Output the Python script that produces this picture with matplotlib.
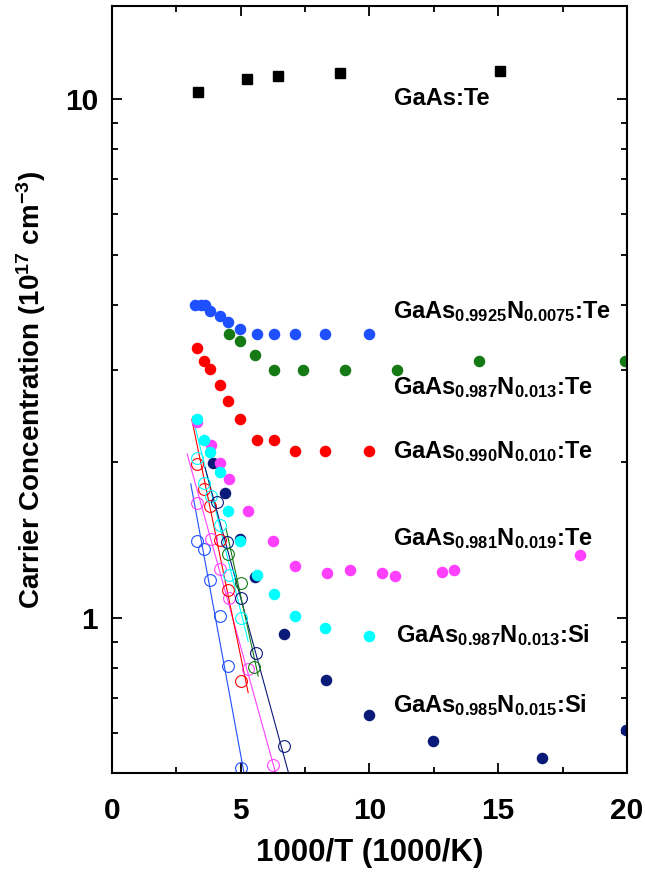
"""
Carrier concentration vs 1000/T for GaAs:Te and GaAsN samples.
"""
import matplotlib
matplotlib.use('Agg')
import matplotlib.pyplot as plt
from matplotlib.ticker import FixedLocator, NullFormatter

# --- filled symbols: Hall data ---
gaas_te_x = [3.34, 5.24, 6.45, 8.85, 15.07]
gaas_te_y = [10.3, 10.9, 11.05, 11.2, 11.3]

n0075_te_x = [3.22, 3.44, 3.61, 3.81, 4.19, 4.51, 4.97, 5.62, 6.30, 7.11, 8.27, 9.98]
n0075_te_y = [4.01, 4.01, 4.01, 3.91, 3.82, 3.72, 3.61, 3.52, 3.52, 3.52, 3.52, 3.52]

n013_te_x = [4.54, 4.98, 5.57, 6.30, 7.43, 9.05, 11.08, 14.26, 19.92]
n013_te_y = [3.52, 3.42, 3.21, 3.01, 3.01, 3.01, 3.01, 3.12, 3.12]

n010_te_x = [3.29, 3.57, 3.81, 4.19, 4.52, 4.97, 5.62, 6.30, 7.11, 8.27, 9.98]
n010_te_y = [3.31, 3.12, 3.02, 2.81, 2.62, 2.42, 2.20, 2.20, 2.10, 2.10, 2.10]

n019_te_x = [3.31, 3.83, 4.19, 4.54, 5.27, 6.24, 7.12, 8.34, 9.24, 10.50, 10.99, 12.80, 13.28, 18.17]
n019_te_y = [2.39, 2.15, 1.99, 1.85, 1.61, 1.41, 1.26, 1.22, 1.24, 1.22, 1.205, 1.225, 1.24, 1.32]

n013_si_x = [3.29, 3.57, 3.81, 4.19, 4.52, 4.98, 5.62, 6.30, 7.11, 8.27, 9.98]
n013_si_y = [2.42, 2.20, 2.09, 1.91, 1.61, 1.41, 1.21, 1.11, 1.01, 0.957, 0.925]

n015_si_x = [3.94, 4.40, 4.97, 5.55, 6.68, 8.31, 9.98, 12.48, 16.69, 19.95]
n015_si_y = [1.99, 1.74, 1.42, 1.20, 0.933, 0.76, 0.65, 0.58, 0.537, 0.608]

# --- open symbols ---
open_blue_x = [3.30, 3.57, 3.81, 4.19, 4.51, 5.00]
open_blue_y = [1.406, 1.358, 1.184, 1.008, 0.808, 0.514]
open_magenta_x = [3.31, 3.83, 4.19, 4.54, 5.27, 6.24]
open_magenta_y = [1.668, 1.419, 1.241, 1.092, 0.796, 0.52]
open_red_x = [3.29, 3.57, 3.81, 4.19, 4.52, 5.00]
open_red_y = [1.98, 1.77, 1.64, 1.413, 1.133, 0.758]
open_cyan_x = [3.29, 3.57, 3.83, 4.19, 4.54, 5.00]
open_cyan_y = [2.03, 1.82, 1.716, 1.514, 1.21, 1.0]
open_navy_x = [4.07, 4.48, 5.00, 5.59, 6.68]
open_navy_y = [1.67, 1.403, 1.092, 0.857, 0.568]
open_green_x = [4.52, 5.00, 5.53]
open_green_y = [1.33, 1.17, 0.806]

# --- fit lines (start / end) ---
fit_blue_x, fit_blue_y = [3.06, 5.17], [1.814, 0.49]
fit_magenta_x, fit_magenta_y = [2.92, 6.42], [2.07, 0.49]
fit_red_x, fit_red_y = [3.10, 5.29], [2.416, 0.718]
fit_cyan_x, fit_cyan_y = [3.13, 5.29], [2.445, 0.902]
fit_navy_x, fit_navy_y = [3.61, 6.92], [1.952, 0.49]
fit_green_x, fit_green_y = [4.43, 5.68], [1.487, 0.773]

labels = [
    r'GaAs:Te',
    r'GaAs$_{0.9925}$N$_{0.0075}$:Te',
    r'GaAs$_{0.987}$N$_{0.013}$:Te',
    r'GaAs$_{0.990}$N$_{0.010}$:Te',
    r'GaAs$_{0.981}$N$_{0.019}$:Te',
    r'GaAs$_{0.987}$N$_{0.013}$:Si',
    r'GaAs$_{0.985}$N$_{0.015}$:Si',
]

BLUE = '#1e50ff'
GREEN = '#157a15'
RED = '#ff0000'
MAGENTA = '#ff40ff'
CYAN = '#00ffff'
NAVY = '#0a1a78'

plt.rcParams['font.family'] = ['Liberation Sans', 'DejaVu Sans']
plt.rcParams['font.weight'] = 'bold'
plt.rcParams['mathtext.fontset'] = 'custom'
plt.rcParams['mathtext.rm'] = 'Liberation Sans:bold'
plt.rcParams['mathtext.it'] = 'Liberation Sans:bold'
plt.rcParams['mathtext.bf'] = 'Liberation Sans:bold'
plt.rcParams['mathtext.default'] = 'rm'

fig = plt.figure(figsize=(6.45, 8.74), dpi=100)
ax = fig.add_axes([0.1736, 0.1156, 0.7984, 0.8776])

# линии аппроксимации
for fx, fy, c in [(fit_blue_x, fit_blue_y, BLUE), (fit_magenta_x, fit_magenta_y, MAGENTA),
                  (fit_red_x, fit_red_y, RED), (fit_cyan_x, fit_cyan_y, CYAN),
                  (fit_navy_x, fit_navy_y, NAVY), (fit_green_x, fit_green_y, GREEN)]:
    ax.plot(fx, fy, color=c, lw=0.8)

# открытые символы
for ox, oy, c in [(open_blue_x, open_blue_y, BLUE), (open_magenta_x, open_magenta_y, MAGENTA),
                  (open_red_x, open_red_y, RED), (open_cyan_x, open_cyan_y, CYAN),
                  (open_navy_x, open_navy_y, NAVY), (open_green_x, open_green_y, GREEN)]:
    ax.plot(ox, oy, 'o', mfc='none', mec=c, ms=8.5, mew=0.8, ls='none')

# заполненные символы
ax.plot(gaas_te_x, gaas_te_y, 's', color='black', ms=6.5, ls='none')
ax.plot(n0075_te_x, n0075_te_y, 'o', color=BLUE, ms=7.3, ls='none')
ax.plot(n013_te_x, n013_te_y, 'o', color=GREEN, ms=7.3, ls='none')
ax.plot(n010_te_x, n010_te_y, 'o', color=RED, ms=7.3, ls='none')
ax.plot(n015_si_x, n015_si_y, 'o', color=NAVY, ms=7.3, ls='none')
ax.plot(n019_te_x, n019_te_y, 'o', color=MAGENTA, ms=7.3, ls='none')
ax.plot(n013_si_x, n013_si_y, 'o', color=CYAN, ms=7.3, ls='none')

# подписи образцов
label_pos = [(10.95, 9.74), (10.91, 3.79), (10.91, 2.70), (10.91, 2.03),
             (10.91, 1.384), (11.03, 0.897), (10.91, 0.659)]
for text, (tx, ty) in zip(labels, label_pos):
    ax.text(tx, ty, text, fontsize=17, fontweight='bold', va='baseline', ha='left')

ax.set_yscale('log')
ax.set_xlim(0, 20)
ax.set_ylim(0.503, 15.1)

ax.xaxis.set_major_locator(FixedLocator([0, 5, 10, 15, 20]))
ax.xaxis.set_minor_locator(FixedLocator([2.5, 7.5, 12.5, 17.5]))
ax.yaxis.set_major_locator(FixedLocator([1, 10]))
ax.yaxis.set_minor_locator(FixedLocator([0.6, 0.7, 0.8, 0.9, 2, 3, 4, 5, 6, 7, 8, 9]))
ax.yaxis.set_minor_formatter(NullFormatter())
ax.set_yticklabels(['1', '10'])

ax.tick_params(which='both', direction='in', top=True, right=True, width=1.3)
ax.tick_params(which='major', length=7)
ax.tick_params(which='minor', length=4)
ax.tick_params(axis='x', which='major', labelsize=21.5, pad=17)
ax.tick_params(axis='y', which='major', labelsize=21.5, pad=10)
for s in ax.spines.values():
    s.set_linewidth(1.5)

ax.set_xlabel('1000/T (1000/K)', fontsize=22.5, fontweight='bold', labelpad=10)
ax.set_ylabel(r'Carrier Concentration (10$^{17}$ cm$^{-3}$)', fontsize=20,
              fontweight='bold', labelpad=12)

plt.savefig('out.png', dpi=100)
